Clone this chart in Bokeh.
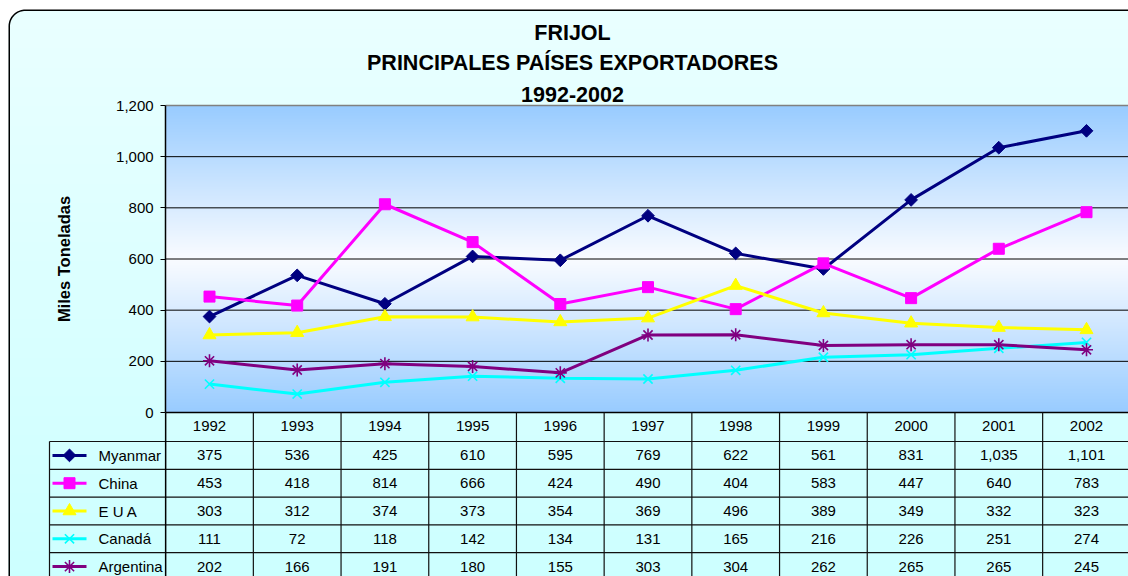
import numpy as np
from bokeh.plotting import figure
from bokeh.models import Range1d, FixedTicker, NumeralTickFormatter, BasicTickFormatter
from bokeh.core.properties import value
from bokeh.embed import file_html
from bokeh.resources import INLINE

# ---------------- data ----------------
years = [1992, 1993, 1994, 1995, 1996, 1997, 1998, 1999, 2000, 2001, 2002]
series_names = ["Myanmar", "China", "E U A", "Canadá", "Argentina"]
myanmar = [375, 536, 425, 610, 595, 769, 622, 561, 831, 1035, 1101]
china = [453, 418, 814, 666, 424, 490, 404, 583, 447, 640, 783]
eua = [303, 312, 374, 373, 354, 369, 496, 389, 349, 332, 323]
canada = [111, 72, 118, 142, 134, 131, 165, 216, 226, 251, 274]
argentina = [202, 166, 191, 180, 155, 303, 304, 262, 265, 265, 245]
y_ticks = [0, 200, 400, 600, 800, 1000, 1200]
title_lines = ["FRIJOL", "PRINCIPALES PAÍSES EXPORTADORES", "1992-2002"]
y_label = "Miles Toneladas"

series_values = [myanmar, china, eua, canada, argentina]

# ---------------- styles ----------------
colors = ["#000080", "#FF00FF", "#FFFF00", "#00FFFF", "#800080"]
markers = ["square", "square", "triangle", "x", "asterisk"]
m_sizes = [9, 11, 13, 13, 13]
m_angles = [np.pi / 4, 0, 0, 0, 0]
m_lw = [1, 1, 1, 1.6, 1.6]
FONT = "Liberation Sans"
SMALL = "15px"

# ---------------- geometry (page pixels) ----------------
W, H = 1128, 576
PAGE_X0, PAGE_Y0 = 0, 0
X_FIRST_PX, X_STEP_PX = 209.0, 87.7
Y_ZERO_PX, Y_TOP_PX = 412.0, 105.0
PPU = (Y_ZERO_PX - Y_TOP_PX) / y_ticks[-1]


def X(px):
    return years[0] + (px - X_FIRST_PX) / X_STEP_PX


def Y(py):
    return (Y_ZERO_PX - py) / PPU


x_start = X(PAGE_X0)
x_end = X(PAGE_X0 + W)
y_start = Y(PAGE_Y0 + H)
y_end = Y(PAGE_Y0)

p = figure(width=W, height=H, x_range=Range1d(x_start, x_end),
           y_range=Range1d(y_start, y_end), output_backend="svg",
           toolbar_location=None, min_border=0,
           background_fill_color="white", border_fill_color="white",
           outline_line_color=None)
p.grid.visible = False

# ---- chart background gradient (top light cyan to bottom cyan) ----
n = 600
t = np.linspace(0, 1, n)  # 0 bottom -> 1 top
bg = np.empty((n, 1), dtype=np.uint32)
v = bg.view(dtype=np.uint8).reshape((n, 1, 4))
v[:, 0, 0] = (204 + (234 - 204) * t).astype(np.uint8)
v[:, 0, 1] = 255
v[:, 0, 2] = 255
v[:, 0, 3] = 255
p.image_rgba(image=[bg], x=X(8), y=Y(590), dw=X(1160) - X(8), dh=Y(9.5) - Y(590))

# white outside rounded corner
r = 16
th = np.linspace(np.pi, 1.5 * np.pi, 20)
cx, cy = 8.75 + r, 9.75 + r
arc_x = cx + r * np.cos(th)
arc_y = cy + r * np.sin(th)
p.patch([X(a) for a in [6] + list(arc_x) + [cx, cx]],
        [Y(b) for b in [6] + list(arc_y) + [6, 6]],
        fill_color="white", line_color=None)
# rounded border line
bx = [8.75] + list(arc_x) + [1170]
by = [600] + list(arc_y) + [9.75]
p.line([X(a) for a in bx], [Y(b) for b in by], line_color="black", line_width=1.5)

# ---- plot area gradient (blue edges, white centre) ----
n2 = 320
t2 = np.linspace(0, 1, n2)
f = 1 - np.abs(2 * t2 - 1)
pa = np.empty((n2, 1), dtype=np.uint32)
v2 = pa.view(dtype=np.uint8).reshape((n2, 1, 4))
v2[:, 0, 0] = (153 + (250 - 153) * f).astype(np.uint8)
v2[:, 0, 1] = (204 + (252 - 204) * f).astype(np.uint8)
v2[:, 0, 2] = 255
v2[:, 0, 3] = 255
x_left = years[0] - 0.5
x_right = years[-1] + 1.5
p.image_rgba(image=[pa], x=x_left, y=0, dw=x_right - x_left, dh=y_ticks[-1])

# gridlines
gvals = y_ticks[1:-1]
p.segment(x0=[x_left] * len(gvals), x1=[x_right] * len(gvals), y0=gvals, y1=gvals,
          line_color="black", line_width=1)
p.segment(x0=[x_left], x1=[x_right], y0=[y_ticks[-1]], y1=[y_ticks[-1]],
          line_color="#808080", line_width=1.5)

# ---- table grid ----
HEADER_BOTTOM_PX = 441.0
ROW_PX = 27.8
LEG_LEFT_PX = 49.0
row_tops = [HEADER_BOTTOM_PX + ROW_PX * k for k in range(len(series_names))]
row_centers = [rt + ROW_PX / 2 for rt in row_tops]
p.segment(x0=[x_left], x1=[x_right], y0=[0], y1=[0], line_color="black", line_width=1.5)
p.segment(x0=[X(LEG_LEFT_PX)] * len(row_tops), x1=[x_right] * len(row_tops),
          y0=[Y(v_) for v_ in row_tops], y1=[Y(v_) for v_ in row_tops],
          line_color="#111111", line_width=1.2)
vb = [yr + 0.5 for yr in years]
p.segment(x0=vb, x1=vb, y0=[0] * len(vb), y1=[y_start] * len(vb),
          line_color="#111111", line_width=1.2)
p.segment(x0=[X(LEG_LEFT_PX)], x1=[X(LEG_LEFT_PX)], y0=[Y(HEADER_BOTTOM_PX)], y1=[y_start],
          line_color="#111111", line_width=1.2)
# continuation of the value axis line through the table
p.segment(x0=[x_left], x1=[x_left], y0=[0], y1=[y_start], line_color="black", line_width=1.5)

# ---- series ----
for name, vals, c, mk, ms, ang, mlw in zip(series_names, series_values, colors, markers,
                                            m_sizes, m_angles, m_lw):
    p.line(years, vals, line_color=c, line_width=3)
    p.scatter(years, vals, marker=mk, size=ms, angle=ang, fill_color=c, line_color=c,
              line_width=mlw)

# ---- table values and legend column ----
for k, (name, vals, c, mk, ms, ang, mlw) in enumerate(zip(series_names, series_values, colors,
                                                          markers, m_sizes, m_angles, m_lw)):
    yc = Y(row_centers[k])
    p.text(x=years, y=[yc] * len(years), text=[f"{v_:,}" for v_ in vals],
           text_font=value(FONT), text_font_size=SMALL, text_color="black",
           text_align="center", text_baseline="middle")
    p.line([X(52), X(86)], [yc, yc], line_color=c, line_width=3)
    p.scatter([X(69)], [yc], marker=mk, size=ms, angle=ang, fill_color=c, line_color=c,
              line_width=mlw)
    p.text(x=[X(98)], y=[yc], text=[name], text_font=value(FONT), text_font_size=SMALL,
           text_color="black", text_align="left", text_baseline="middle")

# ---- title ----
for line_txt, ty in zip(title_lines, [32, 62, 94]):
    p.text(x=[X(572)], y=[Y(ty)], text=[line_txt], text_font=value(FONT),
           text_font_size="21.5px", text_font_style="bold", text_color="black",
           text_align="center", text_baseline="middle")

# ---- axes ----
ya = p.yaxis[0]
ya.fixed_location = years[0] - 0.5
ya.ticker = FixedTicker(ticks=y_ticks)
ya.formatter = NumeralTickFormatter(format="0,0")
ya.bounds = (y_ticks[0], y_ticks[-1])
ya.axis_line_color = "black"
ya.axis_line_width = 1.5
ya.major_tick_out = 5
ya.major_tick_in = 0
ya.major_tick_line_color = "black"
ya.minor_tick_line_color = None
ya.major_label_standoff = 7
ya.major_label_text_font = FONT
ya.major_label_text_font_size = SMALL
ya.major_label_text_color = "black"
ya.axis_label = y_label
ya.axis_label_text_font = FONT
ya.axis_label_text_font_size = "16.5px"
ya.axis_label_text_font_style = "bold"
ya.axis_label_text_color = "black"
ya.axis_label_standoff = 40

xa = p.xaxis[0]
xa.fixed_location = 0
xa.ticker = FixedTicker(ticks=years)
xa.formatter = BasicTickFormatter(use_scientific=False)
xa.axis_line_color = None
xa.major_tick_line_color = None
xa.minor_tick_line_color = None
xa.major_tick_out = 0
xa.major_tick_in = 0
xa.major_label_standoff = 8
xa.major_label_text_font = FONT
xa.major_label_text_font_size = SMALL
xa.major_label_text_color = "black"

open("out.html", "w").write(file_html(p, INLINE))
